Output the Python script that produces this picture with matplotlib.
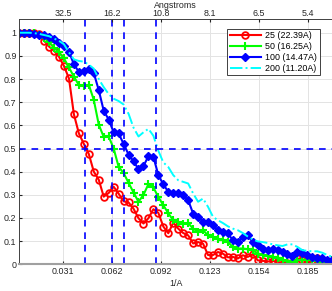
import matplotlib
matplotlib.use('Agg')
import matplotlib.pyplot as plt
import numpy as np

plt.rcParams['font.family'] = ['Liberation Sans', 'DejaVu Sans']

# spatial frequency samples (1/A), box of 128 px at 2.5 A/px
freq = np.arange(1, 65) / 320.0

fsc_25 = [1.0, 1.0, 1.0, 1.0, 0.993, 0.965, 0.94, 0.922, 0.896, 0.856,
          0.803, 0.647, 0.565, 0.52, 0.476, 0.40, 0.365, 0.292, 0.308, 0.335,
          0.305, 0.272, 0.267, 0.24, 0.199, 0.176, 0.199, 0.238, 0.222, 0.163,
          0.134, 0.18, 0.154, 0.135, 0.125, 0.09, 0.096, 0.089, 0.04, 0.04,
          0.053, 0.046, 0.03, 0.032, 0.025, 0.039, 0.032, 0.043, 0.017, 0.015,
          0.012, 0.014, 0.012, 0.003, 0.005, 0.006, 0.025, 0.02, 0.01, 0.02,
          0.025, 0.017, 0.014, 0.012]
fsc_50 = [1.0, 1.0, 1.0, 0.998, 0.99, 0.978, 0.96, 0.935, 0.915, 0.889,
          0.85, 0.81, 0.774, 0.77, 0.775, 0.71, 0.603, 0.55, 0.552, 0.50,
          0.421, 0.394, 0.352, 0.31, 0.27, 0.30, 0.346, 0.332, 0.29, 0.255,
          0.22, 0.19, 0.183, 0.176, 0.178, 0.154, 0.14, 0.147, 0.125, 0.118,
          0.111, 0.104, 0.096, 0.075, 0.068, 0.068, 0.065, 0.061, 0.046, 0.039,
          0.035, 0.03, 0.025, 0.02, 0.015, 0.01, 0.017, 0.02, 0.02, 0.017,
          0.014, 0.012, 0.01, 0.017]
fsc_100 = [1.0, 1.0, 0.998, 0.995, 0.992, 0.99, 0.983, 0.971, 0.957, 0.943,
           0.918, 0.863, 0.831, 0.834, 0.842, 0.826, 0.752, 0.663, 0.625, 0.57,
           0.565, 0.52, 0.474, 0.445, 0.411, 0.424, 0.467, 0.464, 0.385, 0.345,
           0.313, 0.306, 0.306, 0.298, 0.277, 0.219, 0.205, 0.183, 0.183, 0.169,
           0.147, 0.14, 0.133, 0.104, 0.096, 0.118, 0.125, 0.096, 0.082, 0.068,
           0.061, 0.068, 0.061, 0.053, 0.043, 0.035, 0.053, 0.049, 0.039, 0.032,
           0.029, 0.025, 0.02, 0.017]
fsc_200 = [1.0, 1.0, 1.0, 0.998, 0.995, 0.99, 0.985, 0.975, 0.965, 0.95,
           0.915, 0.885, 0.878, 0.875, 0.862, 0.845, 0.80, 0.765, 0.735, 0.715,
           0.705, 0.69, 0.65, 0.59, 0.552, 0.57, 0.585, 0.555, 0.49, 0.44,
           0.42, 0.385, 0.363, 0.356, 0.349, 0.306, 0.27, 0.284, 0.248, 0.205,
           0.19, 0.178, 0.164, 0.154, 0.147, 0.135, 0.12, 0.107, 0.099, 0.096,
           0.092, 0.086, 0.082, 0.079, 0.086, 0.086, 0.075, 0.061, 0.058, 0.056,
           0.056, 0.05, 0.04, 0.032]

labels = ["25 (22.39A)", "50 (16.25A)", "100 (14.47A)", "200 (11.20A)"]
resolutions = [22.39, 16.25, 14.47, 11.20]
threshold = 0.5

xticks = [1 / 32.5, 2 / 32.5, 3 / 32.5, 4 / 32.5, 5 / 32.5, 6 / 32.5]
xtick_labels = ["0.031", "0.062", "0.092", "0.123", "0.154", "0.185"]
top_labels = ["32.5", "16.2", "10.8", "8.1", "6.5", "5.4"]
yticks = [0, 0.1, 0.2, 0.3, 0.4, 0.5, 0.6, 0.7, 0.8, 0.9, 1.0]
ytick_labels = ["0", "0.1", "0.2", "0.3", "0.4", "0.5", "0.6", "0.7", "0.8", "0.9", "1"]

fig = plt.figure(figsize=(3.32, 2.91), dpi=100)
ax = fig.add_axes([0.0581, 0.0918, 0.9425, 0.8419])

ax.plot(freq, fsc_25, color='red', lw=1.5, marker='o', ms=4.8, mfc='none', mew=1.3, label=labels[0])
ax.plot(freq, fsc_50, color='#00ff00', lw=1.5, marker='+', ms=6, mew=1.5, label=labels[1])
ax.plot(freq, fsc_100, color='blue', lw=1.5, marker='D', ms=3.8, label=labels[2])
ax.plot(freq, fsc_200, color='cyan', lw=1.4, ls='-.', label=labels[3])

for r in resolutions:
    ax.axvline(1.0 / r, color='blue', ls=(0, (4, 3.5)), lw=1.2)
ax.axhline(threshold, color='blue', ls=(0, (4, 3.5)), lw=1.2)

ax.set_xlim(freq[0], freq[-1])
ax.set_ylim(0, 1.058)
ax.set_xticks(xticks)
ax.set_xticklabels(xtick_labels)
ax.set_yticks(yticks)
ax.set_yticklabels(ytick_labels)
ax.grid(True, color='#e3e3e3', lw=0.7)
ax.set_axisbelow(True)
ax.tick_params(direction='in', length=2.5, labelsize=6.4, colors='#262626', pad=2)
ax.set_xlabel("1/A", fontsize=6.4, color='#262626', labelpad=2)

for s in ['left', 'top', 'right']:
    ax.spines[s].set_color('#404040')
    ax.spines[s].set_linewidth(0.7)
ax.spines['bottom'].set_color('#a0a0a0')
ax.spines['bottom'].set_linewidth(1.5)

ax2 = ax.twiny()
ax2.set_xlim(ax.get_xlim())
ax2.set_xticks(xticks)
ax2.set_xticklabels(top_labels)
ax2.tick_params(direction='in', length=2.5, labelsize=6.4, colors='#262626', pad=1.2)
ax2.set_xlabel("Angstroms", fontsize=6.4, color='#262626', labelpad=0.5)
for s in ax2.spines.values():
    s.set_visible(False)

leg = ax.legend(loc='upper right', bbox_to_anchor=(0.975, 0.98), fontsize=6.4,
                frameon=True, fancybox=False, edgecolor='#404040', framealpha=1,
                handlelength=3.5, borderpad=0.3, labelspacing=0.2, handletextpad=0.5)
leg.get_frame().set_linewidth(0.7)

fig.savefig('out.png', dpi=100)
